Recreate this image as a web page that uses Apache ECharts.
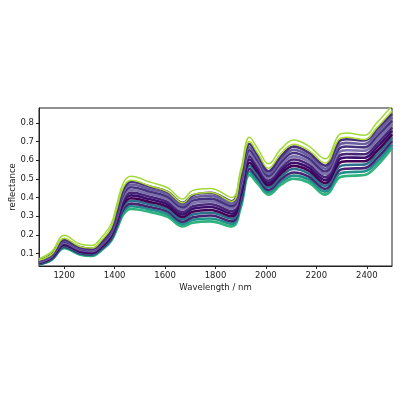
<!DOCTYPE html>
<html lang="en">
<head>
    <meta charset="UTF-8">
    <title>reflectance spectra</title>
    <style>
        body, html {
            margin: 0;
            padding: 0;
            background: #fff;
        }

        #main {
            width: 400px;
            height: 400px;
        }
    </style>
</head>
<body>
<div id="main"></div>
<script src="https://cdn.jsdelivr.net/npm/echarts@6/dist/echarts.min.js"></script>
<script>

    let wavelengths = [1100, 1150, 1200, 1260, 1310, 1350, 1385, 1410, 1435, 1465, 1540, 1610, 1670, 1710, 1780,
        1865, 1900, 1935, 1970, 2010, 2060, 2110, 2170, 2235, 2290, 2320, 2390, 2440, 2500];

    let xTicks = [1200, 1400, 1600, 1800, 2000, 2200, 2400];
    let yTicks = [0.1, 0.2, 0.3, 0.4, 0.5, 0.6, 0.7, 0.8];

    // spectra, from the lowest (teal) to the highest (lime)
    let s01 = [0.040, 0.065, 0.128, 0.095, 0.087, 0.120, 0.165, 0.235, 0.310, 0.338, 0.322, 0.297, 0.245, 0.265, 0.272,
        0.245, 0.345, 0.520, 0.470, 0.415, 0.468, 0.500, 0.480, 0.415, 0.505, 0.515, 0.520, 0.570, 0.665];
    let s02 = [0.042, 0.068, 0.132, 0.099, 0.091, 0.124, 0.171, 0.245, 0.324, 0.353, 0.336, 0.310, 0.258, 0.280, 0.287,
        0.259, 0.362, 0.537, 0.485, 0.428, 0.483, 0.517, 0.496, 0.431, 0.525, 0.535, 0.539, 0.590, 0.683];
    let s03 = [0.044, 0.071, 0.137, 0.103, 0.095, 0.129, 0.177, 0.254, 0.337, 0.367, 0.349, 0.324, 0.270, 0.294, 0.303,
        0.272, 0.378, 0.553, 0.500, 0.440, 0.498, 0.534, 0.512, 0.446, 0.544, 0.554, 0.557, 0.609, 0.702];
    let s04 = [0.047, 0.074, 0.141, 0.107, 0.098, 0.133, 0.183, 0.264, 0.351, 0.382, 0.363, 0.337, 0.283, 0.309, 0.318,
        0.286, 0.395, 0.570, 0.516, 0.453, 0.514, 0.552, 0.528, 0.462, 0.564, 0.574, 0.576, 0.629, 0.720];
    let s05 = [0.049, 0.077, 0.146, 0.111, 0.102, 0.137, 0.189, 0.273, 0.364, 0.396, 0.376, 0.350, 0.296, 0.324, 0.333,
        0.299, 0.411, 0.586, 0.531, 0.465, 0.529, 0.569, 0.544, 0.477, 0.583, 0.594, 0.594, 0.648, 0.738];
    let s06 = [0.051, 0.080, 0.150, 0.115, 0.106, 0.142, 0.195, 0.283, 0.378, 0.411, 0.390, 0.364, 0.309, 0.339, 0.349,
        0.313, 0.428, 0.603, 0.546, 0.478, 0.544, 0.586, 0.560, 0.493, 0.603, 0.614, 0.613, 0.668, 0.757];
    let s07 = [0.053, 0.083, 0.154, 0.119, 0.110, 0.146, 0.201, 0.292, 0.391, 0.426, 0.404, 0.377, 0.321, 0.353, 0.364,
        0.326, 0.444, 0.620, 0.561, 0.490, 0.559, 0.603, 0.576, 0.508, 0.622, 0.633, 0.631, 0.687, 0.775];
    let s08 = [0.055, 0.086, 0.159, 0.123, 0.114, 0.150, 0.207, 0.302, 0.405, 0.440, 0.417, 0.390, 0.334, 0.368, 0.379,
        0.340, 0.461, 0.636, 0.576, 0.503, 0.574, 0.620, 0.592, 0.524, 0.642, 0.653, 0.650, 0.707, 0.793];
    let s09 = [0.058, 0.089, 0.163, 0.127, 0.117, 0.154, 0.213, 0.311, 0.418, 0.455, 0.431, 0.403, 0.347, 0.383, 0.394,
        0.353, 0.477, 0.653, 0.592, 0.515, 0.590, 0.638, 0.608, 0.539, 0.661, 0.673, 0.668, 0.726, 0.811];
    let s10 = [0.060, 0.092, 0.168, 0.131, 0.121, 0.159, 0.219, 0.320, 0.431, 0.469, 0.444, 0.417, 0.359, 0.397, 0.410,
        0.366, 0.493, 0.669, 0.607, 0.527, 0.605, 0.655, 0.624, 0.554, 0.680, 0.692, 0.686, 0.745, 0.830];
    let s11 = [0.062, 0.095, 0.172, 0.135, 0.125, 0.163, 0.225, 0.330, 0.445, 0.484, 0.458, 0.430, 0.372, 0.412, 0.425,
        0.380, 0.510, 0.686, 0.622, 0.540, 0.620, 0.672, 0.640, 0.570, 0.700, 0.712, 0.705, 0.765, 0.848];
    let s12 = [0.064, 0.095, 0.182, 0.138, 0.129, 0.174, 0.236, 0.348, 0.457, 0.492, 0.461, 0.431, 0.371, 0.415, 0.426,
        0.379, 0.526, 0.699, 0.632, 0.556, 0.637, 0.685, 0.652, 0.584, 0.712, 0.722, 0.710, 0.774, 0.864];
    let s13 = [0.072, 0.110, 0.197, 0.152, 0.143, 0.190, 0.255, 0.370, 0.480, 0.514, 0.482, 0.452, 0.392, 0.438, 0.448,
        0.400, 0.550, 0.722, 0.655, 0.580, 0.660, 0.708, 0.675, 0.607, 0.735, 0.745, 0.733, 0.800, 0.890];

    let spectra = [s01, s02, s03, s04, s05, s06, s07, s08, s09, s10, s11, s12, s13];
    let colors = ['#2eb37c', '#21918c', '#482475', '#2c728e', '#440154', '#3b0f70', '#482677',
        '#7d72ad', '#46337f', '#6a5d9e', '#472f7d', '#addc30', '#a0da39'];

    let myChart = echarts.init(document.getElementById('main'));

    let series = [];
    for (let i = 0; i < spectra.length; i++) {
        let isLime = i >= spectra.length - 2;
        let points = [];
        for (let j = 0; j < wavelengths.length; j++) {
            points.push([wavelengths[j], spectra[i][j]]);
        }
        series.push({
            type: 'line',
            data: points,
            smooth: 0.4,
            showSymbol: false,
            clip: true,
            lineStyle: {color: colors[i], width: isLime ? 1.5 : 2.6},
            z: 2
        });
    }

    let option = {
        animation: false,
        grid: {
            left: 39,
            right: 8,
            top: 108,
            bottom: 134,
            outerBoundsMode: 'none',
            containLabel: false,
            show: true,
            borderColor: '#222',
            borderWidth: 1
        },
        xAxis: {
            type: 'value',
            min: 1100,
            max: 2500,
            name: 'Wavelength / nm',
            nameLocation: 'middle',
            nameGap: 17,
            nameMoveOverlap: false,
            nameTextStyle: {color: '#222', fontSize: 8.5, fontFamily: 'DejaVu Sans'},
            axisLine: {show: true, lineStyle: {color: '#222', width: 1}},
            axisTick: {show: true, length: 3, lineStyle: {color: '#222'}, customValues: xTicks},
            axisLabel: {color: '#222', fontSize: 8.5, fontFamily: 'DejaVu Sans', margin: 5, customValues: xTicks,
                formatter: function (v) { return String(v); }},
            splitLine: {show: false}
        },
        yAxis: {
            type: 'value',
            min: 0.033,
            max: 0.879,
            name: 'reflectance',
            nameLocation: 'middle',
            nameGap: 22,
            nameRotate: 90,
            nameMoveOverlap: false,
            nameTextStyle: {color: '#222', fontSize: 8.5, fontFamily: 'DejaVu Sans'},
            axisLine: {show: true, lineStyle: {color: '#222', width: 1}},
            axisTick: {show: true, length: 3, lineStyle: {color: '#222'}, customValues: yTicks},
            axisLabel: {color: '#222', fontSize: 8.5, fontFamily: 'DejaVu Sans', margin: 5, customValues: yTicks,
                formatter: function (v) { return v.toFixed(1); }},
            splitLine: {show: false}
        },
        series: series
    };

    myChart.setOption(option);

</script>
</body>
</html>
